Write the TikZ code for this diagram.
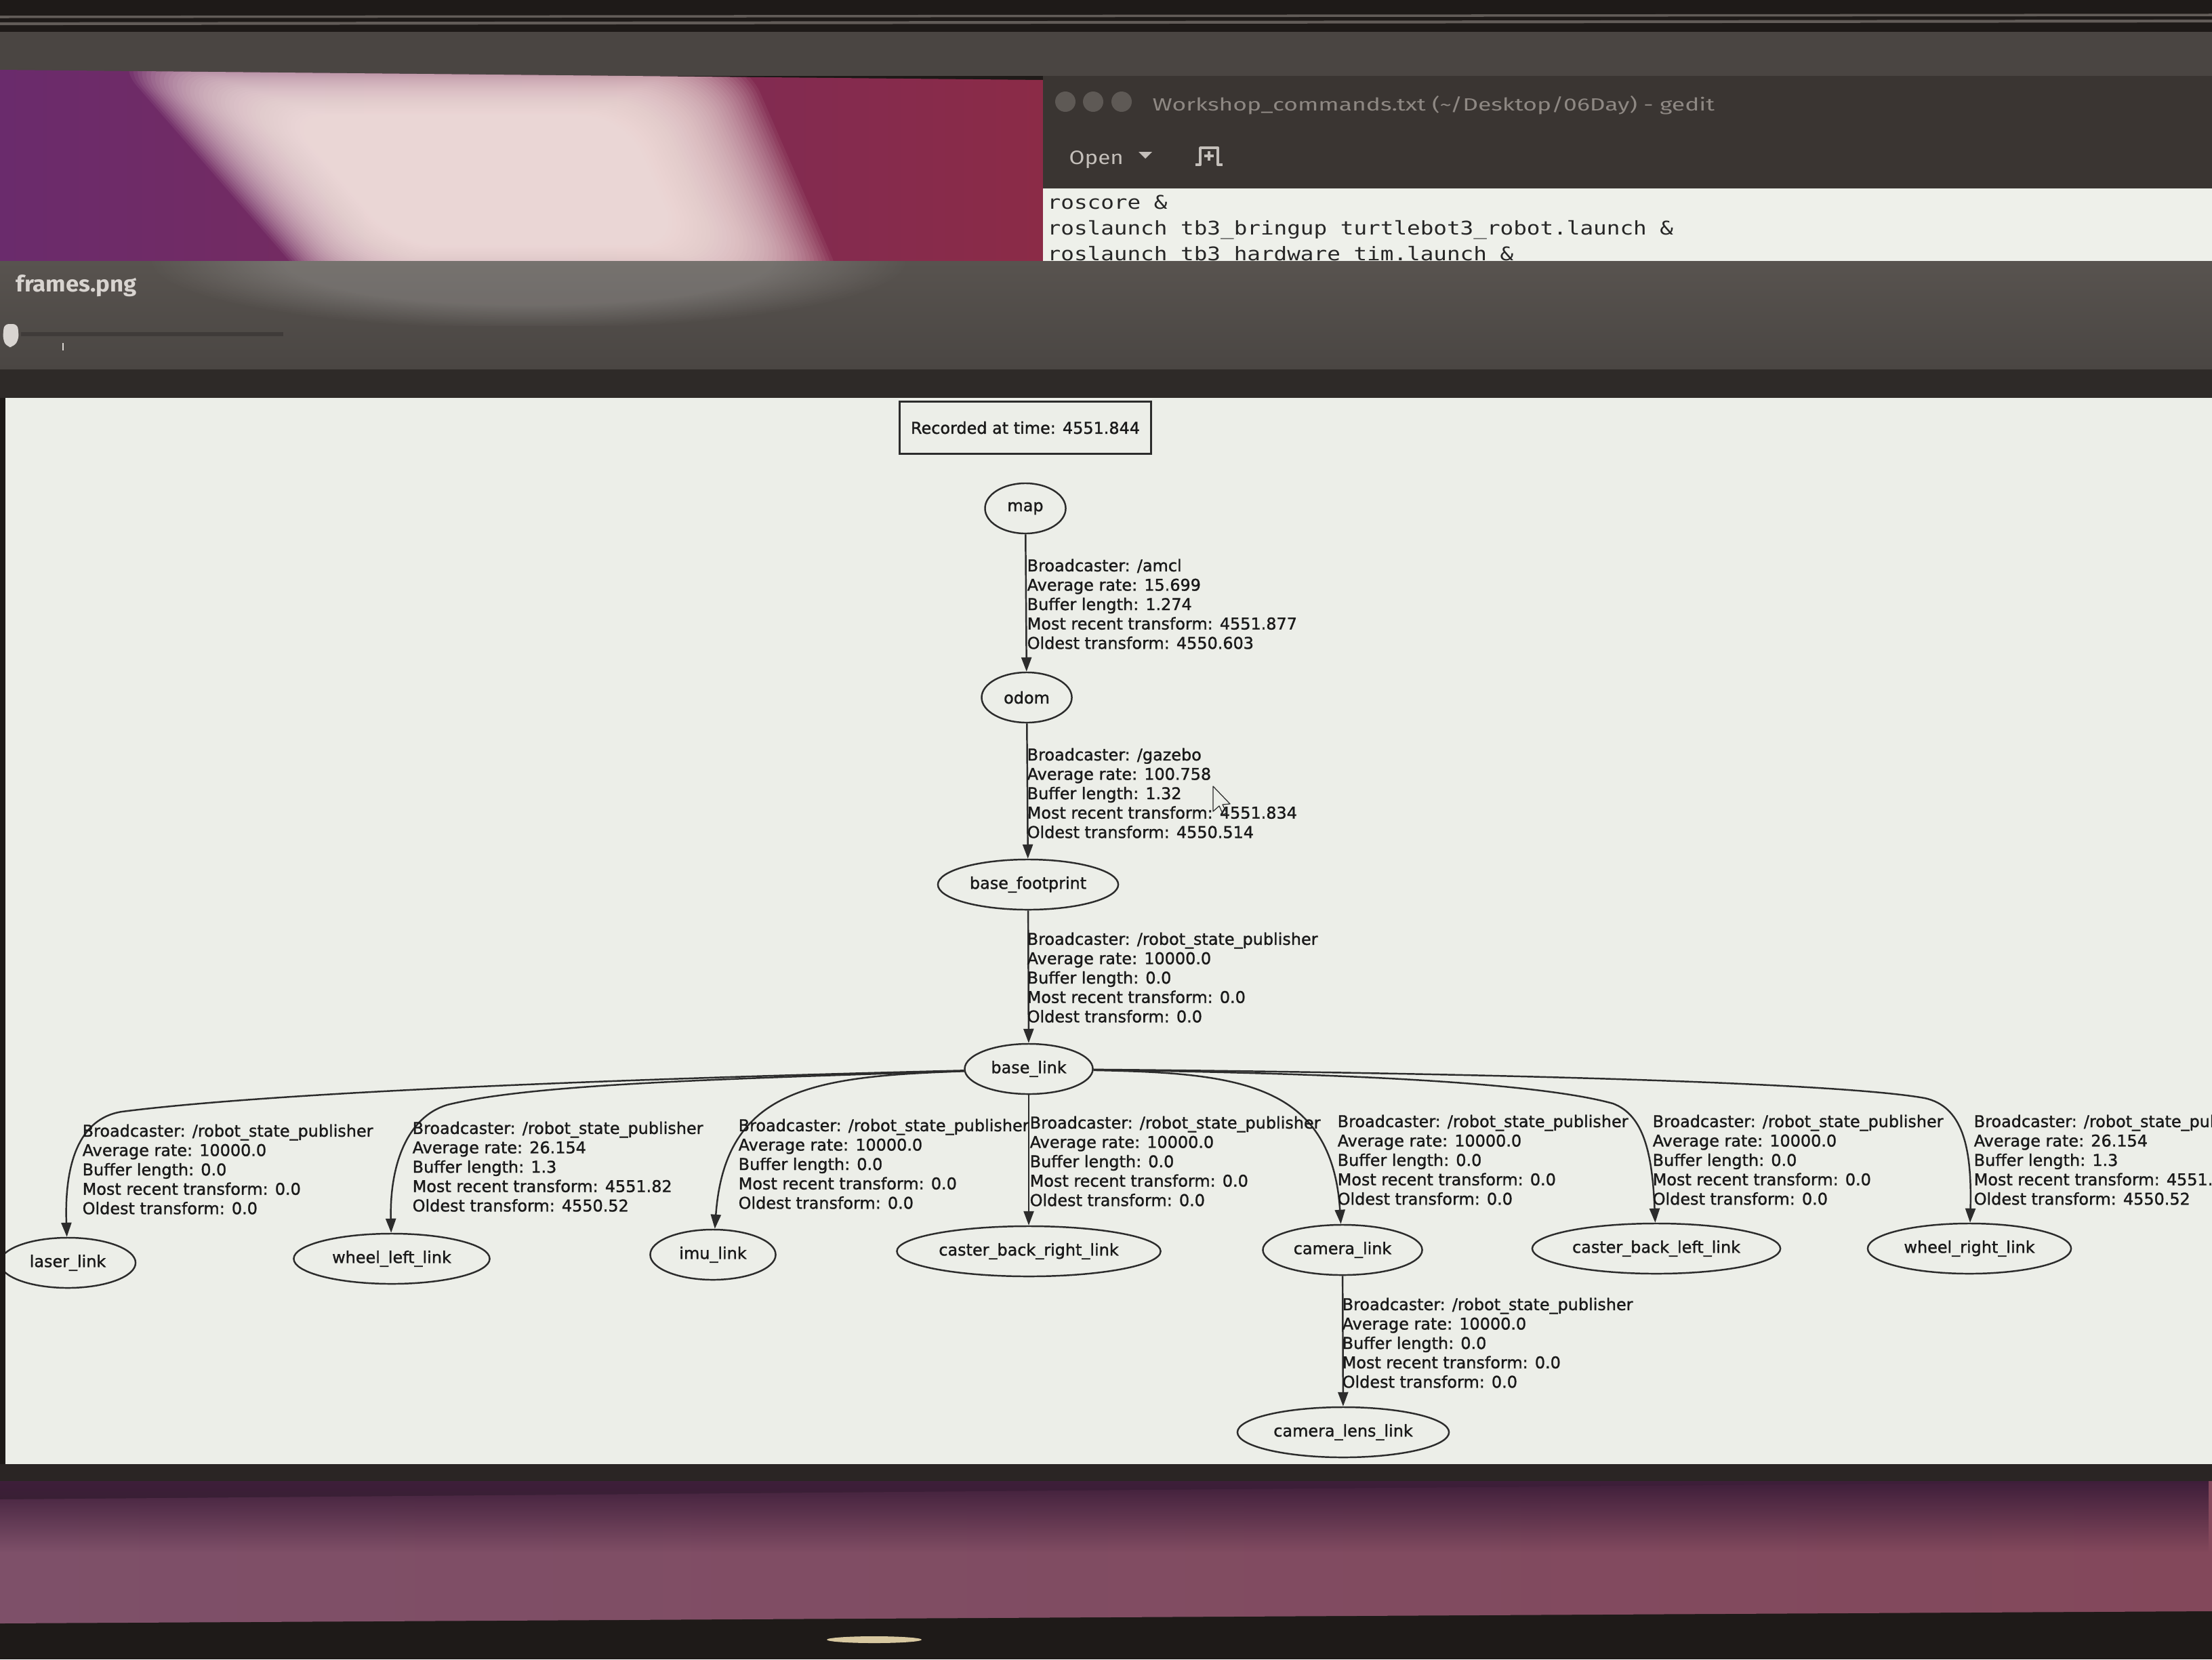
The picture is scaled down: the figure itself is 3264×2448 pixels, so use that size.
\documentclass[tikz,border=0pt]{standalone}
\usepackage{fontspec}
\usepackage{graphicx}
\usetikzlibrary{shapes.geometric,arrows.meta,fadings}
\newfontfamily\gfont[FakeBold=1.3]{DejaVu Sans}
\newfontfamily\codefont{DejaVu Sans Mono}
\newfontfamily\uifont{Fira Sans}
\newcommand\gsz{\fontsize{6.8pt}{8.13pt}\selectfont}
\newcommand\rsplabel[4]{Broadcaster: /robot\_state\_publisher\\Average rate: #1\\Buffer length: #2\\Most recent transform: #3\\Oldest transform: #4}
\definecolor{topblack}{HTML}{1E1A18}
\definecolor{topline}{HTML}{625C58}
\definecolor{topband}{HTML}{4A4542}
\definecolor{purpL}{HTML}{6A2B6C}
\definecolor{purpR}{HTML}{8B2B47}
\definecolor{glarec}{HTML}{F8E8E3}
\definecolor{gbar}{HTML}{3A3532}
\definecolor{titlec}{HTML}{8E8883}
\definecolor{btnc}{HTML}{5E5955}
\definecolor{uitxt}{HTML}{C4BFBA}
\definecolor{gtext}{HTML}{EEF0EA}
\definecolor{codetxt}{HTML}{262626}
\definecolor{fwinTop}{HTML}{58534F}
\definecolor{fwinBot}{HTML}{4A4643}
\definecolor{fstrip}{HTML}{2E2A28}
\definecolor{ftitle}{HTML}{D8D4D0}
\definecolor{knobc}{HTML}{D9D5D1}
\definecolor{graphbg}{HTML}{ECEEE8}
\definecolor{txt}{HTML}{1A1A1A}
\definecolor{edgec}{HTML}{2C2C2C}
\definecolor{dstrip}{HTML}{2A2524}
\definecolor{pTop}{HTML}{3E1E3A}
\definecolor{bandL}{HTML}{7E5069}
\definecolor{bandM}{HTML}{743E5B}
\definecolor{bandR}{HTML}{83485B}
\definecolor{glint}{HTML}{D8C8A0}
\pgfdeclareradialshading{glowshade}{\pgfpointorigin}{color(0bp)=(pgftransparent!0); color(16bp)=(pgftransparent!0); color(25bp)=(pgftransparent!100); color(50bp)=(pgftransparent!100)}
\pgfdeclarefading{glowfade}{\pgfuseshading{glowshade}}
\tikzfading[name=topdark, top color=transparent!0, bottom color=transparent!100]
\tikzset{
  tfnode/.style={ellipse, draw=edgec, line width=0.7pt, inner sep=0pt, minimum height=0.74cm, font=\gfont\gsz, text=txt},
  lbl/.style={anchor=north west, align=left, inner sep=0pt, font=\gfont\gsz, text=txt},
  tfedge/.style={draw=edgec, line width=0.7pt, -{Triangle[length=0.21cm,width=0.15cm]}},
  ui/.style={anchor=base west, inner sep=0pt},
}
\begin{document}
\begin{tikzpicture}[x=0.01cm,y=-0.01cm]
\useasboundingbox (0,0) rectangle (3264,2448);
% ---------- top of screen ----------
\fill[topblack] (0,0) rectangle (3264,2448);
\draw[topline, line width=1pt] (0,25) -- (3264,22);
\draw[topline, line width=1.2pt] (0,35) -- (3264,31);
\fill[topband] (0,47) rectangle (3264,112);
% desktop (purple) with glare
\shade[left color=purpL, right color=purpR] (0,103) -- (1539,118) -- (1539,392) -- (0,392) -- cycle;
\begin{scope}
  \clip (0,103) -- (1539,118) -- (1539,392) -- (0,392) -- cycle;
  \foreach \s in {1.3,1.285,...,0.7}
    \fill[glarec, opacity=0.065, rounded corners=18pt, shift={(720,275)}, scale=\s] (-430,-150) -- (290,-150) -- (410,125) -- (-190,125) -- cycle;
\end{scope}
% ---------- gedit window ----------
\fill[gbar] (1539,112) rectangle (3264,280);
\fill[btnc] (1572,150) circle [radius=15];
\fill[btnc] (1613,150) circle [radius=15];
\fill[btnc] (1655,150) circle [radius=15];
\node[ui, text=titlec] (gtitle) at (1700,163) {\resizebox{8.29cm}{0.22cm}{\uifont Workshop\_commands.txt (\textasciitilde/Desktop/06Day) - gedit}};
\node[ui, text=uitxt] (open) at (1577,242) {\resizebox{0.8cm}{0.2cm}{\uifont Open}};
\fill[uitxt] (1680,224) -- (1700,224) -- (1690,234) -- cycle;
\draw[uitxt, line width=1.1pt, line join=round] (1764,243) -- (1771,243) -- (1771,218) -- (1797,218) -- (1797,243) -- (1804,243);
\draw[uitxt, line width=1.1pt] (1784,223) -- (1784,237) (1777,230) -- (1791,230);
\fill[gtext] (1539,278) rectangle (3264,392);
\node[ui, text=codetxt] (code1) at (1545,308) {\scalebox{1}[0.85]{\codefont\fontsize{9.28pt}{11pt}\selectfont roscore \&}};
\node[ui, text=codetxt] (code2) at (1545,346) {\scalebox{1}[0.85]{\codefont\fontsize{9.28pt}{11pt}\selectfont roslaunch tb3\_bringup turtlebot3\_robot.launch \&}};
\node[ui, text=codetxt] (code3) at (1545,384) {\scalebox{1}[0.85]{\codefont\fontsize{9.28pt}{11pt}\selectfont roslaunch tb3\_hardware tim.launch \&}};
% ---------- frames.png window ----------
\shade[top color=fwinTop, bottom color=fwinBot] (0,385) rectangle (3264,545);
\begin{scope}
  \clip (0,385) rectangle (3264,480);
  \fill[white, opacity=0.18, path fading=glowfade] (780,385) ellipse [x radius=560, y radius=100];
\end{scope}
\node[ui, text=ftitle] (ftitle) at (23,430) {\resizebox{1.78cm}{0.25cm}{\uifont\bfseries frames.png}};
\draw[fwinBot!85!black, line width=1.5pt] (31,493) -- (418,493);
\fill[knobc, rounded corners=2pt] (6,478) -- (26,478) -- (28,500) -- (20,512) -- (10,512) -- (4,500) -- cycle;
\draw[knobc, line width=0.8pt] (93,506) -- (93,517);
\fill[fstrip] (0,545) rectangle (3264,587);
% ---------- frames graph ----------
\begin{scope}
\clip (8,587) rectangle (3264,2160);
\fill[graphbg] (8,587) rectangle (3264,2160);
\node[draw=edgec, line width=0.7pt, inner sep=0pt, minimum width=3.71cm, minimum height=0.77cm, font=\gfont\gsz, text=txt] (rec) at (1513,631) {Recorded at time: 4551.844};
\node[tfnode, minimum width=1.19cm] (map) at (1513,750) {map};
\node[tfnode, minimum width=1.33cm] (odom) at (1515,1029) {odom};
\node[tfnode, minimum width=2.66cm] (bf) at (1517,1305) {base\_footprint};
\node[tfnode, minimum width=1.89cm] (bl) at (1518,1577) {base\_link};
\node[tfnode, minimum width=2.0cm] (laser) at (100,1863) {laser\_link};
\node[tfnode, minimum width=2.89cm] (wl) at (578,1857) {wheel\_left\_link};
\node[tfnode, minimum width=1.85cm] (imu) at (1052,1851) {imu\_link};
\node[tfnode, minimum width=3.89cm] (cbr) at (1518,1846) {caster\_back\_right\_link};
\node[tfnode, minimum width=2.35cm] (cam) at (1981,1844) {camera\_link};
\node[tfnode, minimum width=3.66cm] (cbl) at (2444,1842) {caster\_back\_left\_link};
\node[tfnode, minimum width=3.0cm] (wr) at (2906,1842) {wheel\_right\_link};
\node[tfnode, minimum width=3.12cm] (lens) at (1982,2113) {camera\_lens\_link};
% edges
\draw[tfedge] (map) -- (odom);
\draw[tfedge] (odom) -- (bf);
\draw[tfedge] (bf) -- (bl);
\draw[tfedge] (bl) .. controls (900,1592) and (400,1612) .. (180,1640) .. controls (115,1650) and (95,1720) .. (laser);
\draw[tfedge] (bl) .. controls (1050,1592) and (780,1600) .. (660,1630) .. controls (600,1648) and (575,1720) .. (wl);
\draw[tfedge] (bl) .. controls (1200,1588) and (1070,1605) .. (imu);
\draw[tfedge] (bl) -- (cbr);
\draw[tfedge] (bl) .. controls (1820,1583) and (1965,1595) .. (cam);
\draw[tfedge] (bl) .. controls (1950,1583) and (2260,1595) .. (2380,1628) .. controls (2425,1645) and (2438,1700) .. (cbl);
\draw[tfedge] (bl) .. controls (2100,1582) and (2700,1595) .. (2840,1620) .. controls (2895,1632) and (2910,1690) .. (wr);
\draw[tfedge] (cam) -- (lens);
% edge labels
\node[lbl] (l1) at (1515,824) {Broadcaster: /amcl\\Average rate: 15.699\\Buffer length: 1.274\\Most recent transform: 4551.877\\Oldest transform: 4550.603};
\node[lbl] (l2) at (1515,1103) {Broadcaster: /gazebo\\Average rate: 100.758\\Buffer length: 1.32\\Most recent transform: 4551.834\\Oldest transform: 4550.514};
\node[lbl] (l3) at (1515,1375) {\rsplabel{10000.0}{0.0}{0.0}{0.0}};
\node[lbl] (l4) at (121,1658) {\rsplabel{10000.0}{0.0}{0.0}{0.0}};
\node[lbl] (l5) at (608,1654) {\rsplabel{26.154}{1.3}{4551.82}{4550.52}};
\node[lbl] (l6) at (1089,1650) {\rsplabel{10000.0}{0.0}{0.0}{0.0}};
\node[lbl] (l7) at (1519,1646) {\rsplabel{10000.0}{0.0}{0.0}{0.0}};
\node[lbl] (l8) at (1973,1644) {\rsplabel{10000.0}{0.0}{0.0}{0.0}};
\node[lbl] (l9) at (2438,1644) {\rsplabel{10000.0}{0.0}{0.0}{0.0}};
\node[lbl] (l10) at (2912,1644) {\rsplabel{26.154}{1.3}{4551.82}{4550.52}};
\node[lbl] (l11) at (1980,1914) {\rsplabel{10000.0}{0.0}{0.0}{0.0}};
% mouse pointer
\draw[edgec, line width=0.35pt, line join=round] (1790,1160) -- (1790,1197) -- (1799,1189) -- (1805,1202) -- (1810,1199) -- (1804,1187) -- (1815,1186) -- cycle;
\end{scope}
% ---------- bottom of screen ----------
\fill[dstrip] (0,2160) rectangle (3264,2215);
\shade[left color=bandL, middle color=bandM, right color=bandR] (0,2212) -- (3264,2185) -- (3264,2377) -- (0,2395) -- cycle;
\fill[pTop, path fading=topdark] (0,2185) rectangle (3264,2290);
\fill[glint] (1290,2419) ellipse [x radius=70, y radius=5];
\end{tikzpicture}
\end{document}
